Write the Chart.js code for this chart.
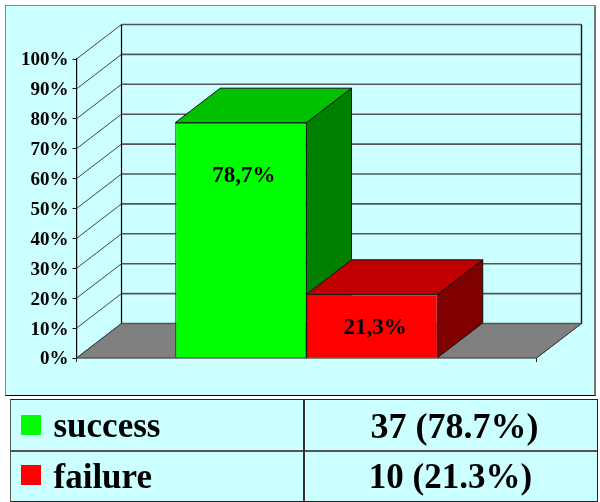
<!DOCTYPE html>
<html><head><meta charset="utf-8">
<style>
html,body{margin:0;padding:0;background:#fff;width:600px;height:502px;overflow:hidden}
#frame{position:absolute;left:5px;top:5px;width:588px;height:389px;background:#CCFFFF;border:1.5px solid #888;border-bottom:1.5px solid #000;border-right:2px solid #777}
#c{position:absolute;left:0;top:0}
#tbl{position:absolute;left:10px;top:399px;width:586px;height:101px;background:#CCFFFF;border:1px solid #222;border-left:1px solid #555;font-family:"Liberation Serif",serif;font-weight:bold;color:#000}
.row{position:absolute;left:0;width:586px;height:50px}
.sw{position:absolute;left:10px;top:15px;width:20px;height:20px}
.nm{position:absolute;left:42.5px;top:0;line-height:52px;font-size:35px}
.vl{position:absolute;left:293px;width:293px;top:0;text-align:center;line-height:52px;font-size:35px}
.row0 .vl{left:297px;font-size:36px}
.row1 .nm,.row1 .vl{top:1px}
.hl{position:absolute;left:0;width:586px;top:50px;height:1.5px;background:#555}
.vline{position:absolute;left:292px;top:0;width:1.5px;height:101px;background:#333}
</style></head><body>
<div id="frame"></div>
<canvas id="c" width="600" height="502"></canvas>
<div id="tbl"></div>
<script src="https://cdn.jsdelivr.net/npm/chart.js@4/dist/chart.umd.min.js"></script>
<script>
const seriesNames=['success','failure'];
const percentages=[78.7,21.3];
const counts=[37,10];
const labelAtValues=[61,10];
const categories=[''];
const frontColors=['#00FF00','#FF0000'];
const topColors=['#00C000','#C00000'];
const sideColors=['#008000','#800000'];

const DX=45, DY=34.5;
function poly(ctx,pts,fill,stroke,lw){
  ctx.beginPath();pts.forEach((p,i)=>i?ctx.lineTo(p[0],p[1]):ctx.moveTo(p[0],p[1]));ctx.closePath();
  if(fill){ctx.fillStyle=fill;ctx.fill();}
  if(stroke){ctx.strokeStyle=stroke;ctx.lineWidth=lw||1;ctx.stroke();}
}
function line(ctx,x1,y1,x2,y2,color,lw){
  ctx.beginPath();ctx.moveTo(x1,y1);ctx.lineTo(x2,y2);ctx.strokeStyle=color;ctx.lineWidth=lw;ctx.stroke();
}
const depth3d={
  id:'depth3d',
  beforeDraw(chart){
    chart.scales.y.getLabelItems(chart.chartArea).forEach(it=>{it.options.translation[1]+=1.5;});
  },
  beforeDatasetsDraw(chart){
    const {ctx,chartArea:a,scales:{y}}=chart;
    ctx.save();
    const y0=y.getPixelForValue(0), y100=y.getPixelForValue(100);
    poly(ctx,[[a.left,y0],[a.left+DX,y0-DY],[a.right+DX,y0-DY],[a.right,y0]],'#808080','#444',1);
    y.ticks.forEach(t=>{
      const p=y.getPixelForValue(t.value);
      line(ctx,a.left,p,a.left+DX,p-DY,'#444',1);
      line(ctx,a.left+DX,p-DY,a.right+DX,p-DY,'#555',1.6);
    });
    line(ctx,a.left+DX,y100-DY,a.left+DX,y0-DY,'#000',1.2);
    line(ctx,a.right+DX,y100-DY,a.right+DX,y0-DY,'#111',1.4);
    line(ctx,a.right,y0,a.right+DX,y0-DY,'#444',1);
    chart.data.datasets.forEach((ds,i)=>{
      const el=chart.getDatasetMeta(i).data[0];
      const l=el.x-el.width/2,r=el.x+el.width/2,t=el.y,b=el.base;
      poly(ctx,[[r,t],[r+DX,t-DY],[r+DX,b-DY],[r,b]],sideColors[i],'#111',1);
      poly(ctx,[[l,t],[l+DX,t-DY],[r+DX,t-DY],[r,t]],topColors[i],'#111',1);
    });
    ctx.restore();
  },
  afterDatasetsDraw(chart){
    const {ctx,scales:{y}}=chart;
    ctx.save();
    ctx.font='bold 23px "Liberation Serif"';
    ctx.fillStyle='#000';ctx.textAlign='center';ctx.textBaseline='middle';
    chart.data.datasets.forEach((ds,i)=>{
      const el=chart.getDatasetMeta(i).data[0];
      ctx.fillText(percentages[i].toFixed(1).replace('.',',')+'%',el.x+3,y.getPixelForValue(labelAtValues[i]));
    });
    ctx.restore();
  }
};
new Chart(document.getElementById('c'),{
  type:'bar',
  data:{labels:categories,datasets:seriesNames.map((n,i)=>({
    label:n,data:[percentages[i]],backgroundColor:frontColors[i],borderColor:'#222',borderWidth:1,
    barPercentage:1,categoryPercentage:0.5707
  }))},
  plugins:[depth3d],
  options:{
    responsive:false,animation:false,devicePixelRatio:1,
    layout:{padding:{left:0,right:63.5,top:59,bottom:144}},
    plugins:{legend:{display:false},tooltip:{enabled:false},title:{display:false}},
    events:[],
    scales:{
      x:{grid:{drawOnChartArea:false,drawTicks:true,tickLength:4,color:'#222'},border:{display:true,color:'#444',width:1.2},ticks:{display:false},afterFit(s){s.height=0;}},
      y:{min:0,max:100,afterFit(s){s.width=76.5;},
        grid:{drawOnChartArea:false,drawTicks:true,tickLength:4,color:'#111'},
        border:{display:true,color:'#000',width:1.2},
        ticks:{stepSize:10,padding:4,color:'#000',font:{family:'"Liberation Serif"',weight:'bold',size:19},callback:v=>v+'%'}}
    }
  }
});
const tbl=document.getElementById('tbl');
let html='';
seriesNames.forEach((n,i)=>{
  html+=`<div class="row row${i}" style="top:${i*50}px"><div class="sw" style="background:${frontColors[i]}"></div><div class="nm">${n}</div><div class="vl">${counts[i]} (${percentages[i].toFixed(1)}%)</div></div>`;
});
html+='<div class="hl"></div><div class="vline"></div>';
tbl.innerHTML=html;
</script>
</body></html>
